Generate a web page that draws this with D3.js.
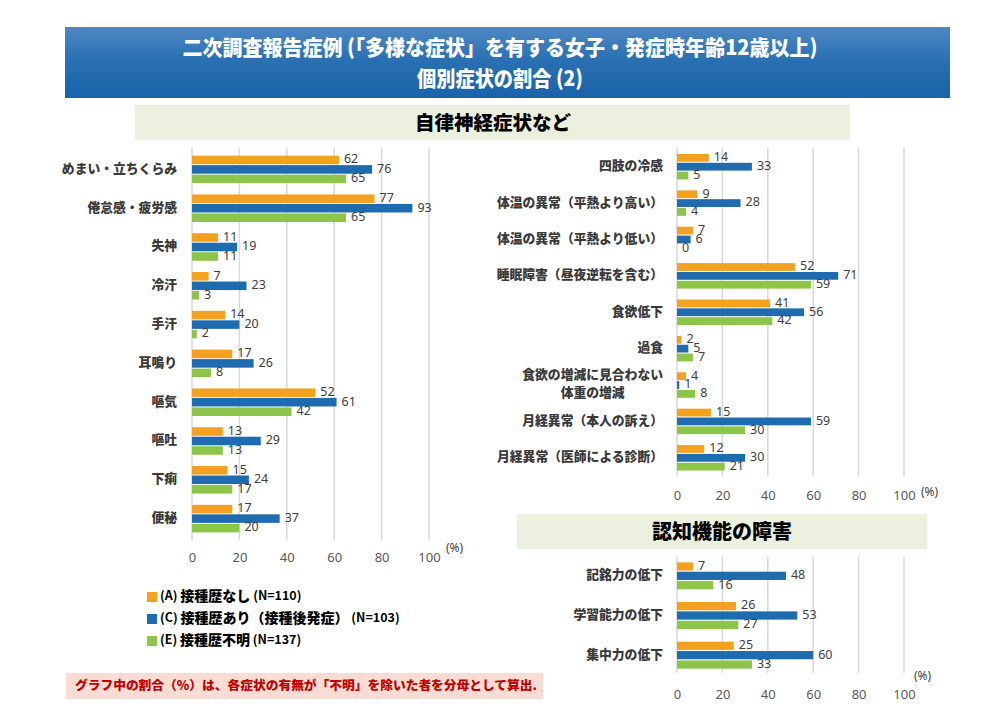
<!DOCTYPE html>
<html><head><meta charset="utf-8">
<script src="https://cdn.jsdelivr.net/npm/d3@7/dist/d3.min.js"></script>
<style>
html,body{margin:0;padding:0;background:#fff;}
svg{display:block;font-family:"Noto Sans CJK JP","Noto Sans",sans-serif;}
</style></head>
<body>
<svg id="chart" width="1002" height="711"></svg>
<script>
// ---------- data ----------
const seriesKeys = ["A","C","E"];
const seriesColors = ["#F4A11F","#1F6BB0","#8DC549"];
const legendCodes = ["(A)","(C)","(E)"];
const legendNames = ["接種歴なし","接種歴あり（接種後発症）","接種歴不明"];
const legendNs = ["(N=110)","(N=103)","(N=137)"];
const xTicks = [0,20,40,60,80,100];

const leftCats = ["めまい・立ちくらみ","倦怠感・疲労感","失神","冷汗","手汗","耳鳴り","嘔気","嘔吐","下痢","便秘"];
const leftA = [62,77,11,7,14,17,52,13,15,17];
const leftC = [76,93,19,23,20,26,61,29,24,37];
const leftE = [65,65,11,3,2,8,42,13,17,20];

const rightCats = ["四肢の冷感","体温の異常（平熱より高い）","体温の異常（平熱より低い）","睡眠障害（昼夜逆転を含む）","食欲低下","過食","食欲の増減に見合わない\n体重の増減","月経異常（本人の訴え）","月経異常（医師による診断）"];
const rightA = [14,9,7,52,41,2,4,15,12];
const rightC = [33,28,6,71,56,5,1,59,30];
const rightE = [5,4,0,59,42,7,8,30,21];

const cogCats = ["記銘力の低下","学習能力の低下","集中力の低下"];
const cogA = [7,26,25];
const cogC = [48,53,60];
const cogE = [16,27,33];

const titleLine1 = "二次調査報告症例 (「多様な症状」を有する女子・発症時年齢12歳以上)";
const titleLine2 = "個別症状の割合 (2)";
const section1 = "自律神経症状など";
const section2 = "認知機能の障害";
const note = "グラフ中の割合（%）は、各症状の有無が「不明」を除いた者を分母として算出.";

// ---------- drawing ----------
const svg = d3.select("#chart");
const defs = svg.append("defs");
const grad = defs.append("linearGradient").attr("id","bannerGrad").attr("x1",0).attr("y1",0).attr("x2",0).attr("y2",1);
grad.append("stop").attr("offset","0%").attr("stop-color","#4f88c4");
grad.append("stop").attr("offset","45%").attr("stop-color","#2a71b3");
grad.append("stop").attr("offset","100%").attr("stop-color","#1a62aa");

svg.append("rect").attr("x",65).attr("y",27).attr("width",885).attr("height",71).attr("fill","url(#bannerGrad)");
svg.append("text").attr("x",500).attr("y",55).attr("text-anchor","middle").attr("fill","#fff")
  .attr("font-size",21).attr("font-weight",900).attr("textLength",635).attr("lengthAdjust","spacingAndGlyphs").text(titleLine1);
svg.append("text").attr("x",500).attr("y",86).attr("text-anchor","middle").attr("fill","#fff")
  .attr("font-size",21).attr("font-weight",900).attr("textLength",166).attr("lengthAdjust","spacingAndGlyphs").text(titleLine2);

svg.append("rect").attr("x",135).attr("y",105).attr("width",715).attr("height",35).attr("fill","#ebf1de");
svg.append("text").attr("x",493).attr("y",130).attr("text-anchor","middle").attr("fill","#000")
  .attr("font-size",19.5).attr("font-weight",900).text(section1);

svg.append("rect").attr("x",517).attr("y",514).attr("width",410).attr("height",35).attr("fill","#ebf1de");
svg.append("text").attr("x",722).attr("y",538.5).attr("text-anchor","middle").attr("fill","#000")
  .attr("font-size",20).attr("font-weight",900).text(section2);

function drawChart(cfg){
  const g = svg.append("g");
  const x = d3.scaleLinear().domain([0,100]).range([cfg.x0,cfg.x1]);
  const y = d3.scaleBand().domain(cfg.cats).range([cfg.yTop,cfg.yBot]);
  const groupH = y.bandwidth()*cfg.groupFrac;
  const y1 = d3.scaleBand().domain(seriesKeys).range([0,groupH]).paddingInner(cfg.barPad);
  // grid
  g.selectAll("line.grid").data(xTicks).join("line")
    .attr("x1",d=>x(d)).attr("x2",d=>x(d)).attr("y1",cfg.gridTop).attr("y2",cfg.gridBot)
    .attr("stroke","#d9d9d9").attr("stroke-width",1.5);
  // axis labels
  const ax = g.append("g").attr("transform",`translate(0,${cfg.tickY})`)
    .call(d3.axisBottom(x).tickValues(xTicks).tickSize(0).tickPadding(0));
  ax.select(".domain").remove();
  ax.selectAll("text").attr("font-size",13).attr("fill","#595959").attr("font-family","'Noto Sans',sans-serif").attr("dy","0.35em");
  g.append("text").attr("x",cfg.pctX).attr("y",cfg.pctY).attr("font-size",12).attr("fill","#404040")
    .attr("font-family","'Noto Sans',sans-serif").attr("dominant-baseline","middle").text("(%)");
  const series = [cfg.A,cfg.C,cfg.E];
  cfg.cats.forEach((c,i)=>{
    const gy = y(c) + (y.bandwidth()-groupH)/2;
    seriesKeys.forEach((k,j)=>{
      const v = series[j][i];
      const by = gy + y1(k);
      g.append("rect").attr("x",x(0)).attr("y",by).attr("width",x(v)-x(0)).attr("height",y1.bandwidth())
        .attr("fill",seriesColors[j]);
      g.append("text").attr("x",x(v)+5).attr("y",by+y1.bandwidth()/2).attr("dominant-baseline","middle")
        .attr("font-size",12.5).attr("fill","#404040").attr("font-family","'Noto Sans',sans-serif").text(v);
    });
    // category label
    const lines = c.split("\n");
    const cy = y(c)+y.bandwidth()/2;
    const lh = 18;
    const texts = lines.map((ln,li)=>g.append("text")
      .attr("y",cy+(li-(lines.length-1)/2)*lh).attr("dominant-baseline","middle")
      .attr("font-size",12.8).attr("font-weight",900).attr("fill","#3a3a3a").text(ln));
    if(lines.length===1){
      texts[0].attr("x",cfg.labelX).attr("text-anchor","end");
    } else {
      const w = d3.max(texts,t=>t.node().getComputedTextLength());
      texts.forEach(t=>t.attr("x",cfg.labelX-w/2).attr("text-anchor","middle"));
    }
  });
}

drawChart({cats:leftCats,A:leftA,C:leftC,E:leftE,x0:192,x1:429,yTop:150,yBot:538,groupFrac:0.71,barPad:0.1,
  gridTop:148,gridBot:540,tickY:557,pctX:446,pctY:549,labelX:177});
drawChart({cats:rightCats,A:rightA,C:rightC,E:rightE,x0:677,x1:904,yTop:148.5,yBot:476,groupFrac:0.70,barPad:0.12,
  gridTop:148,gridBot:476,tickY:495,pctX:921,pctY:493,labelX:663});
drawChart({cats:cogCats,A:cogA,C:cogC,E:cogE,x0:677,x1:904,yTop:556,yBot:675,groupFrac:0.68,barPad:0.12,
  gridTop:557,gridBot:673,tickY:694,pctX:914,pctY:677,labelX:663});

// legend
const lg = svg.append("g");
legendCodes.forEach((code,i)=>{
  const yy = 597 + i*22;
  lg.append("rect").attr("x",147).attr("y",yy-5).attr("width",10).attr("height",10).attr("fill",seriesColors[i]);
  const t = lg.append("text").attr("x",160).attr("y",yy).attr("dominant-baseline","middle").attr("fill","#000");
  t.append("tspan").attr("font-size",12.5).attr("font-weight",700).text(code+" ");
  t.append("tspan").attr("font-size",14).attr("font-weight",900).text(legendNames[i]);
  t.append("tspan").attr("font-size",12.5).attr("font-weight",700).text(" "+legendNs[i]);
});

// note
svg.append("rect").attr("x",66).attr("y",673).attr("width",477).attr("height",26).attr("fill","#f9dcd3");
svg.append("text").attr("x",75).attr("y",686.5).attr("dominant-baseline","middle").attr("fill","#c00000")
  .attr("font-size",12.5).attr("font-weight",900).attr("textLength",462).attr("lengthAdjust","spacingAndGlyphs").text(note);
</script>
</body></html>
